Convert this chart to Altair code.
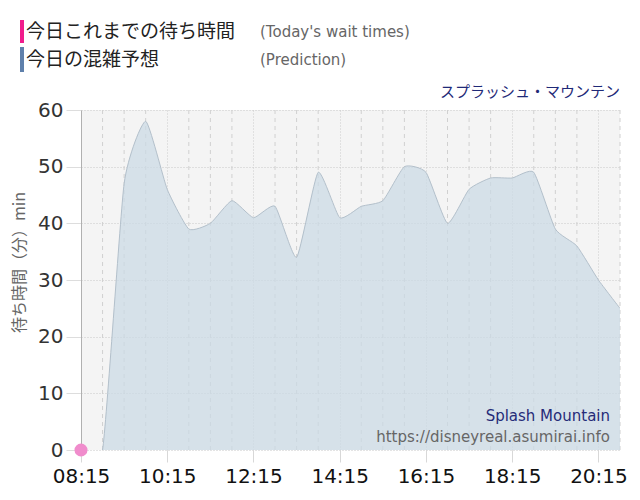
import altair as alt
import pandas as pd

# ---- data ----
pred_times = ["08:15", "08:45", "09:15", "09:45", "10:15", "10:45", "11:15", "11:45",
              "12:15", "12:45", "13:15", "13:45", "14:15", "14:45", "15:15", "15:45",
              "16:15", "16:45", "17:15", "17:45", "18:15", "18:45", "19:15", "19:45",
              "20:15", "20:45"]
pred_values = [0, 0, 47, 58, 46, 39, 40, 44, 41, 43, 34, 49, 41, 43, 44, 50,
               49, 40, 46, 48, 48, 49, 39, 36, 30, 25]
actual_times = ["08:15"]
actual_values = [0]
tick_labels = ["08:15", "10:15", "12:15", "14:15", "16:15", "18:15", "20:15"]
grid_times = ["08:45", "09:15", "09:45", "10:45", "11:15", "11:45", "12:45", "13:15",
              "13:45", "14:45", "15:15", "15:45", "16:45", "17:15", "17:45", "18:45",
              "19:15", "19:45", "20:45"]
y_ticks = [0, 10, 20, 30, 40, 50, 60]

DAY = "2020-01-01T"

def dt(s):
    h, m = s.split(":")
    return alt.DateTime(year=2020, month=1, date=1, hours=int(h), minutes=int(m))

pred = pd.DataFrame({"t": [DAY + t for t in pred_times], "v": pred_values})
actual = pd.DataFrame({"t": [DAY + t for t in actual_times], "v": actual_values})
grid = pd.DataFrame({"t": [DAY + t for t in grid_times]})
one = pd.DataFrame({"a": [0]})

FONT_NUM = "DejaVu Sans"
FONT_JP = "Noto Sans CJK JP"

xscale = alt.Scale(domain=[dt("08:15"), dt("20:45")], nice=False)
yscale = alt.Scale(domain=[0, 60], nice=False)

xaxis = alt.Axis(values=[dt(t) for t in tick_labels], format="%H:%M", title=None,
                 labelFont=FONT_NUM, labelFontSize=20, labelColor="#111",
                 labelPadding=4, tickSize=12, tickColor="#d8d8d8",
                 domain=False, grid=True, gridColor="#cccccc", gridDash=[1, 2],
                 labelFlush=False)
yaxis = alt.Axis(values=y_ticks, title="待ち時間（分）min", titleFont=FONT_JP,
                 titleFontSize=16, titleFontWeight="normal", titleColor="#666",
                 titleAngle=-90, titleX=-62, titleY=152, titleAlign="center",
                 titleBaseline="middle",
                 labelFont=FONT_NUM, labelFontSize=20, labelColor="#333",
                 labelPadding=3, tickSize=15, tickColor="#dddddd",
                 domain=True, domainColor="#b0b0b0",
                 grid=True, gridColor="#c8c8c8", gridDash=[1, 2])

rules = alt.Chart(grid).mark_rule(color="#d0d0d0", strokeDash=[4, 4], strokeWidth=1).encode(
    x=alt.X("t:T", scale=xscale, axis=xaxis)
)

area = alt.Chart(pred).mark_area(
    interpolate="cardinal", tension=0.5, clip=True, color="#cbd9e5", fillOpacity=0.72,
    line={"color": "#b3c0cb", "strokeWidth": 1}
).encode(
    x=alt.X("t:T", scale=xscale, axis=xaxis),
    y=alt.Y("v:Q", scale=yscale, axis=yaxis),
)

dot = alt.Chart(actual).mark_point(filled=True, size=170, color="#f08ccc", opacity=1).encode(
    x=alt.X("t:T", scale=xscale),
    y=alt.Y("v:Q", scale=yscale),
)

def txt(s, x, y, size, color, align="left", font=FONT_JP):
    return alt.Chart(one).mark_text(align=align, baseline="alphabetic", fontSize=size,
                                    color=color, font=font).encode(
        x=alt.value(x), y=alt.value(y), text=alt.value(s))

def bar(x, y, y2, color):
    return alt.Chart(one).mark_rect(color=color).encode(
        x=alt.value(x), x2=alt.value(x + 4), y=alt.value(y), y2=alt.value(y2))

legend = [
    bar(-61, -90, -67, "#f01c8c"),
    bar(-61, -63, -38, "#5f80ab"),
    txt("今日これまでの待ち時間", -55, -72, 19, "#222"),
    txt("(Today's wait times)", 179, -73, 15, "#666", font=FONT_NUM),
    txt("今日の混雑予想", -55, -44, 19, "#222"),
    txt("(Prediction)", 179, -45, 15, "#666", font=FONT_NUM),
    txt("スプラッシュ・マウンテン", 539, -13, 15, "#1f2a78", align="right"),
    txt("Splash Mountain", 529, 311, 15, "#262b78", align="right", font=FONT_NUM),
    txt("https://disneyreal.asumirai.info", 529, 332, 15, "#666", align="right", font=FONT_NUM),
]

chart = alt.layer(rules, area, dot, *legend).properties(
    width=539, height=340,
    autosize=alt.AutoSizeParams(type="none"),
    padding={"left": 73, "top": 102, "right": 12, "bottom": 40},
    background="white",
).configure_view(fill="#f4f4f4", stroke=None)

chart.save("out.html", embed_options={"renderer": "svg", "actions": False})
